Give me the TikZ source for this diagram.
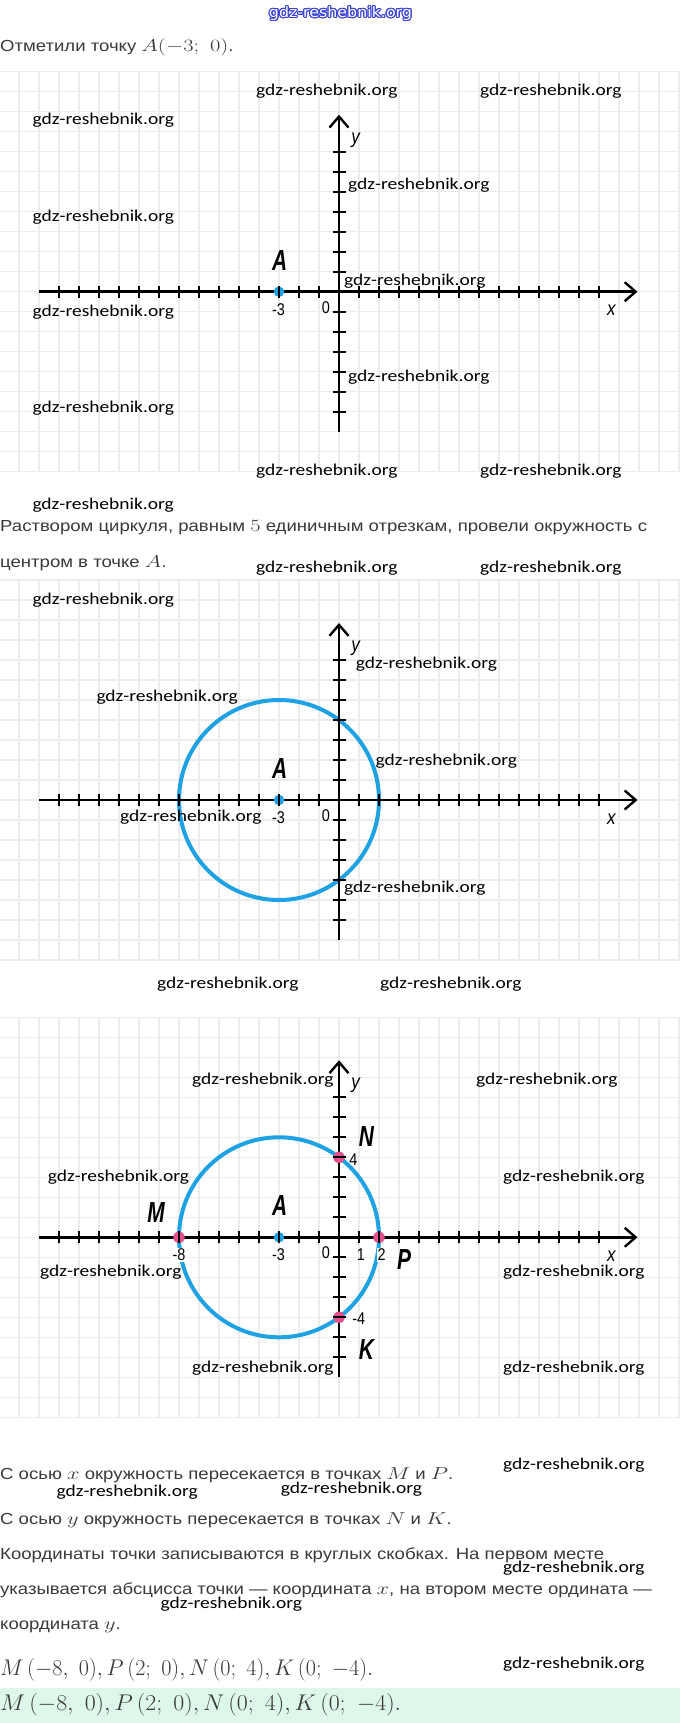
\documentclass[tikz,border=0pt]{standalone}
\usepackage{fontspec}
\usepackage{graphicx}
\usepackage{contour}
\usetikzlibrary{arrows.meta}
\newfontfamily\bodyfont[FakeStretch=1.16]{Liberation Sans}
\newfontfamily\wmfont[FakeStretch=1.18]{Carlito}
\newfontfamily\lblfont[FakeStretch=0.85]{Liberation Sans}
\newfontfamily\bigfont[FakeStretch=0.72]{Liberation Sans}
\newfontfamily\topfont{DejaVu Sans}
\definecolor{txt}{HTML}{3A3A3A}
\definecolor{gridc}{HTML}{ECECEC}
\definecolor{ringc}{HTML}{1EA2E4}
\definecolor{pinkc}{HTML}{E2508E}
\definecolor{bandc}{HTML}{DDF8EA}
\definecolor{topblue}{HTML}{3D45D8}
\newcommand\mth[1]{\scalebox{1.3}[1]{\fontsize{17}{20}\selectfont$#1$}}
\contourlength{0.7pt}
\begin{document}
\begin{tikzpicture}[x=1pt,y=-1pt,
  gridline/.style={gridc,line width=1.4pt},
  axisline/.style={black,line width=2.6pt},
  arr/.style={-{Straight Barb[length=11pt,width=19pt,line width=2.4pt]}},
  tk/.style={black,line width=2.3pt},
  ring/.style={ringc,line width=4pt},
  dotA/.style={circle,fill=ringc,inner sep=0pt,minimum size=10.5pt},
  dotP/.style={circle,fill=pinkc,inner sep=0pt,minimum size=11.5pt},
  body/.style={anchor=west,inner sep=0pt,text=txt,font=\bodyfont\fontsize{16}{20}\selectfont},
  wm/.style={anchor=west,inner sep=0pt,text=black,font=\wmfont\fontsize{16.5}{20}\selectfont},
  lbl/.style={inner sep=0pt,font=\lblfont\fontsize{17}{20}\selectfont},
  axl/.style={inner sep=0pt,font=\lblfont\itshape\fontsize{20}{22}\selectfont},
  big/.style={inner sep=0pt,font=\bigfont\bfseries\itshape\fontsize{29}{31}\selectfont}]
\useasboundingbox (0,0) rectangle (680,1723);
\fill[white] (0,0) rectangle (680,1723);
\fill[bandc] (0,1688) rectangle (680,1723);
% grids
\begin{scope}
\clip (0,0) rectangle (680,1723);
\foreach \yz/\kt/\kb in {291.7/-11/9, 800/-11/8, 1237.3/-11/9}{
  \foreach \k in {\kt,...,\kb} \draw[gridline] (0,{\yz+20*\k}) -- (680,{\yz+20*\k});
  \foreach \k in {-17,...,17} \draw[gridline] ({339+20*\k},{\yz+20*\kt}) -- ({339+20*\k},{\yz+20*\kb});
}
\end{scope}
% axis coordinates
\foreach \yz/\p in {291.7/1, 800/2, 1237.3/3}{
  \coordinate (xs\p) at (39,\yz);
  \coordinate (xe\p) at (637.5,\yz);
  \coordinate (ys\p) at (339,{\yz+140});
  \coordinate (ye\p) at (339,{\yz-177});
  \coordinate (O\p) at (339,\yz);
}
% circles
\coordinate (C2) at (279,800);
\coordinate (C3) at (279,1237.3);
\draw[ring] (C2) circle[radius=100pt];
\draw[ring] (C3) circle[radius=100pt];
% axes
\foreach \p in {1,2,3}{
  \draw[axisline,arr] (xs\p) -- (xe\p);
  \draw[axisline,arr] (ys\p) -- (ye\p);
}
% points
\node[dotA] (A1) at (279,291.7) {};
\node[dotA] (A2) at (279,800) {};
\node[dotA] (A3) at (279,1237.3) {};
\node[dotP] (M3) at (179,1237.3) {};
\node[dotP] (P3) at (379,1237.3) {};
\node[dotP] (N3) at (339,1157.3) {};
\node[dotP] (K3) at (339,1317.3) {};
% ticks
\foreach \yz in {291.7,800,1237.3}{
  \foreach \i in {-14,...,13}{
    \ifnum\i=0\else
      \draw[tk] ({339+20*\i},{\yz-6}) -- ({339+20*\i},{\yz+6});
    \fi
  }
  \foreach \j in {-7,...,6}{
    \ifnum\j=0\else
      \draw[tk] (332.5,{\yz+20*\j}) -- (345.5,{\yz+20*\j});
    \fi
  }
}
% labels panel 1-3
\foreach \yz/\p in {291.7/1, 800/2, 1237.3/3}{
  \node[axl] (ly\p) at (355.6,{\yz-151.7}) {y};
  \node[axl] (lx\p) at (611.4,{\yz+19}) {x};
  \node[lbl] (l0\p) at (326,{\yz+15.6}) {0};
  \node[lbl] (lm3\p) at (278.5,{\yz+17.6}) {-3};
  \node[big] (lA\p) at (279.7,{\yz-31.5}) {A};
}
\node[lbl,fill=white,inner sep=1pt] (lm8) at (179,1255) {-8};
\node[lbl] (l1) at (361,1255) {1};
\node[lbl,fill=white,inner sep=1pt] (l2) at (381.6,1255) {2};
\node[lbl] (l4) at (353.4,1159.3) {4};
\node[lbl] (lm4) at (358.8,1319) {-4};
\node[big] (lM) at (156,1212.7) {M};
\node[big] (lN) at (366.4,1136.7) {N};
\node[big] (lP) at (404,1259.3) {P};
\node[big] (lK) at (366.4,1349.3) {K};
% texts
\node (topwm) at (340.5,14) {\resizebox{143pt}{11pt}{\topfont{\color{white}\contour{topblue}{gdz-reshebnik.org}}}};
\node[body] (t1) at (0,46.7) {Отметили точку \mth{A(-3;\ 0)}.};
\node[body] (t2) at (0,528) {Раствором циркуля, равным \mth{5} единичным отрезкам, провели окружность с};
\node[body] (t3) at (0,563.3) {центром в точке \mth{A}.};
\node[body] (t4) at (0,1475) {С осью \mth{x} окружность пересекается в точках \mth{M} и \mth{P}.};
\node[body] (t5) at (0,1520) {С осью \mth{y} окружность пересекается в точках \mth{N} и \mth{K}.};
\node[body] (t6) at (0,1555) {Координаты точки записываются в круглых скобках. На первом месте};
\node[body] (t7) at (0,1590.7) {указывается абсцисса точки — координата \mth{x}, на втором месте ордината —};
\node[body] (t8) at (0,1627.3) {координата \mth{y}.};
\node[body] (f1) at (0,1670) {\resizebox{373pt}{17pt}{$M\,(-8,\ 0), P\,(2;\ 0), N\,(0;\ 4), K\,(0;\ -4).$}};
\node[body] (f2) at (0,1705) {\resizebox{401pt}{17pt}{$M\,(-8,\ 0), P\,(2;\ 0), N\,(0;\ 4), K\,(0;\ -4).$}};
% watermarks
\foreach \x/\y [count=\n] in {256/91, 480/91, 32.5/120, 348/185, 32.5/216.7, 344/281, 32.5/312.3, 348/376.7, 32.5/408.3, 256/470.7, 480/470.7, 32.3/505, 256/568.3, 480/568.3, 32.5/600, 355.6/664.3, 96.3/696.7, 375.5/761, 120/817.3, 344/888.3, 157/984, 380/984, 192/1080, 476/1080, 47.7/1176.7, 503/1176.7, 40/1272.3, 503/1272.3, 192/1368.3, 503/1368.3, 503/1465, 56.4/1491.7, 280.6/1489, 503/1568.3, 160.5/1604.3, 503/1664.3}{
  \node[wm] (wm\n) at (\x,\y) {gdz-reshebnik.org};
}
\end{tikzpicture}
\end{document}
